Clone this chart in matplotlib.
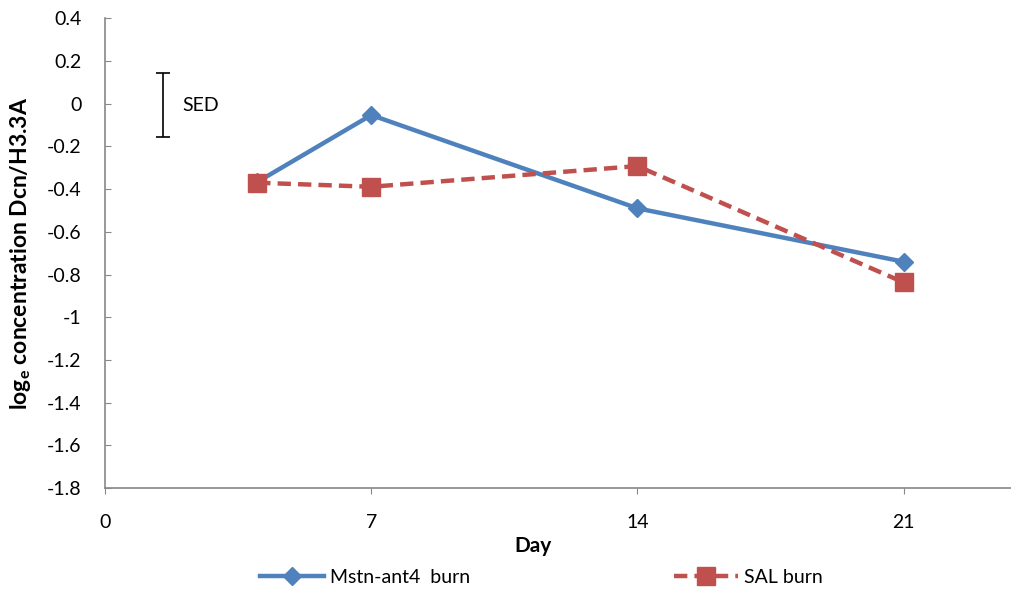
import matplotlib
matplotlib.use("Agg")
import matplotlib.pyplot as plt

plt.rcParams['font.family'] = ['Lato', 'DejaVu Sans']
plt.rcParams['mathtext.fontset'] = 'custom'
plt.rcParams['mathtext.rm'] = 'Lato'
plt.rcParams['mathtext.bf'] = 'Lato:bold'

days = [4, 7, 14, 21]
mstn = [-0.367, -0.053, -0.49, -0.74]
sal = [-0.37, -0.389, -0.292, -0.837]
xticks = [0, 7, 14, 21]
yticks = [0.4, 0.2, 0, -0.2, -0.4, -0.6, -0.8, -1, -1.2, -1.4, -1.6, -1.8]
sed_x = 1.53
sed_center = -0.008
sed_half = 0.15

fig = plt.figure(figsize=(10.12, 5.95), dpi=100)
ax = fig.add_axes([0.1038, 0.1798, 0.8962, 0.7894])

ax.plot(days, mstn, color='#4F81BD', lw=3.2, marker='D', ms=9.5,
        label='Mstn-ant4  burn', zorder=3)
ax.plot(days, sal, color='#C0504D', lw=3.2, ls=(0, (3, 1.6)), marker='s', ms=12.5,
        label='SAL burn', zorder=4)

ax.errorbar([sed_x], [sed_center], yerr=[sed_half], color='black', lw=1.2,
            capsize=5, capthick=1.2, fmt='none')
ax.text(sed_x + 0.5, sed_center, 'SED', fontsize=14, va='center', ha='left')

ax.set_xlim(0, 23.85)
ax.set_ylim(-1.8, 0.4)
ax.set_xticks(xticks)
ax.set_xticklabels([str(t) for t in xticks], fontsize=14)
ax.set_yticks(yticks)
ax.set_yticklabels([('%g' % t) for t in yticks], fontsize=14)

for s in ['top', 'right']:
    ax.spines[s].set_visible(False)
for s in ['left', 'bottom']:
    ax.spines[s].set_color('#888888')
    ax.spines[s].set_linewidth(1.2)
ax.tick_params(axis='x', direction='out', length=4.5, color='#888888', pad=14)
ax.tick_params(axis='y', direction='in', length=4, color='#888888', pad=17)

ax.set_xlabel('Day', fontsize=15, fontweight='bold')
ax.xaxis.set_label_coords(0.472, -0.102)
ax.set_ylabel(r'log$_\mathbf{e}$ concentration Dcn/H3.3A', fontsize=16.5, fontweight='bold')
ax.yaxis.set_label_coords(-0.079, 0.5)

leg = fig.legend(loc='center', bbox_to_anchor=(0.535, 0.030), ncol=2,
                 frameon=False, fontsize=14, columnspacing=10.5, handlelength=3.3,
                 handletextpad=0.3)

fig.savefig('out.png', dpi=100)
